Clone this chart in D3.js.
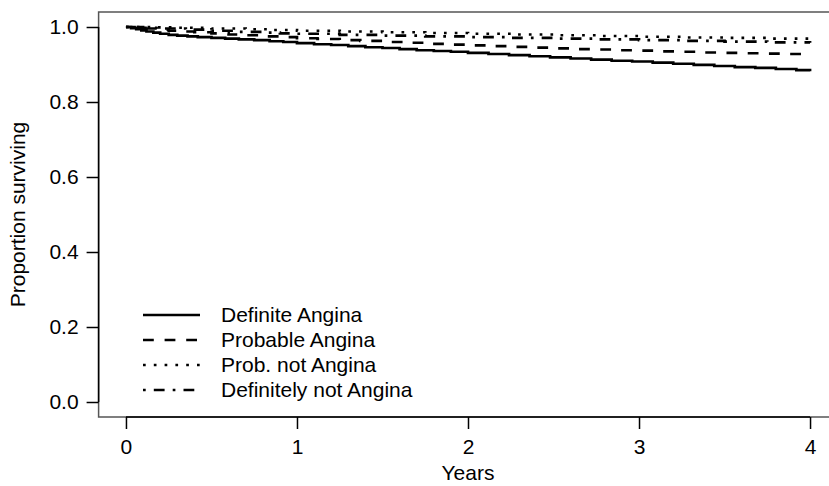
<!DOCTYPE html>
<html>
<head>
<meta charset="utf-8">
<script src="https://cdn.jsdelivr.net/npm/d3@7"></script>
<style>
  body { margin: 0; background: #fff; }
  svg { display: block; font-family: "Liberation Sans", Arial, Helvetica, sans-serif; }
</style>
</head>
<body>
<svg id="chart" width="829" height="486"></svg>
<script>
// survival estimates (years, proportion surviving)
var definiteT = [0, 0.03, 0.06, 0.09, 0.12, 0.16, 0.2, 0.25, 0.3, 0.36, 0.42, 0.5, 0.58, 0.66, 0.75, 0.84, 0.92, 1.0, 1.1, 1.2, 1.3, 1.4, 1.5, 1.6, 1.7, 1.8, 1.9, 2.0, 2.12, 2.24, 2.36, 2.48, 2.6, 2.72, 2.84, 2.96, 3.08, 3.2, 3.32, 3.44, 3.56, 3.68, 3.8, 3.92, 4.0];
var definiteS = [1.0, 0.997, 0.994, 0.991, 0.988, 0.985, 0.982, 0.979, 0.977, 0.975, 0.973, 0.971, 0.969, 0.967, 0.965, 0.962, 0.96, 0.957, 0.954, 0.952, 0.949, 0.946, 0.944, 0.941, 0.938, 0.936, 0.934, 0.931, 0.928, 0.925, 0.922, 0.919, 0.916, 0.913, 0.91, 0.908, 0.905, 0.902, 0.899, 0.896, 0.893, 0.891, 0.888, 0.885, 0.882];

var probableT = [0, 0.05, 0.1, 0.18, 0.25, 0.33, 0.4, 0.5, 0.6, 0.7, 0.8, 0.9, 1.0, 1.12, 1.25, 1.37, 1.5, 1.62, 1.75, 1.87, 2.0, 2.12, 2.25, 2.37, 2.5, 2.62, 2.75, 2.87, 3.0, 3.12, 3.25, 3.37, 3.5, 3.62, 3.75, 3.87, 4.0];
var probableS = [1.0, 0.998, 0.996, 0.993, 0.99, 0.988, 0.986, 0.983, 0.98, 0.978, 0.975, 0.973, 0.97, 0.968, 0.965, 0.963, 0.96, 0.958, 0.955, 0.953, 0.951, 0.949, 0.947, 0.945, 0.943, 0.941, 0.94, 0.938, 0.937, 0.935, 0.934, 0.932, 0.931, 0.93, 0.929, 0.928, 0.927];

var probNotT = [0, 0.15, 0.3, 0.5, 0.7, 0.85, 1.0, 1.25, 1.5, 1.75, 2.0, 2.25, 2.5, 2.75, 3.0, 3.25, 3.5, 3.75, 4.0];
var probNotS = [1.0, 0.999, 0.998, 0.996, 0.994, 0.992, 0.99, 0.988, 0.986, 0.984, 0.982, 0.98, 0.978, 0.976, 0.974, 0.972, 0.971, 0.969, 0.968];

var defNotT = [0, 0.1, 0.2, 0.35, 0.5, 0.65, 0.8, 0.9, 1.0, 1.25, 1.5, 1.75, 2.0, 2.25, 2.5, 2.75, 3.0, 3.25, 3.5, 3.75, 4.0];
var defNotS = [1.0, 0.998, 0.996, 0.993, 0.99, 0.987, 0.985, 0.983, 0.982, 0.979, 0.977, 0.975, 0.973, 0.971, 0.969, 0.967, 0.965, 0.963, 0.961, 0.959, 0.958];

var groupNames = ["Definite Angina", "Probable Angina", "Prob. not Angina", "Definitely not Angina"];
var xTicks = [0, 1, 2, 3, 4];
var yTicks = [0, 0.2, 0.4, 0.6, 0.8, 1.0];

var lw = 2.7;
var fs = 21;
var dashes = [null, [4, 4], [1, 3], [1, 3, 4, 3]].map(function (d) {
  return d ? d.map(function (v) { return v * lw; }).join(",") : null;
});

var series = [
  { t: definiteT, s: definiteS },
  { t: probableT, s: probableS },
  { t: probNotT, s: probNotS },
  { t: defNotT, s: defNotS }
];

var svg = d3.select("#chart");

// R style plot region, extended 4% past the data range (right edge is cut off)
var x = d3.scaleLinear().domain([-0.16, 4.16]).range([98.6, 837.4]);
var y = d3.scaleLinear().domain([-0.04, 1.04]).range([417, 12]);

// box
svg.append("rect")
  .attr("x", x(-0.16)).attr("y", y(1.04))
  .attr("width", x(4.16) - x(-0.16)).attr("height", y(-0.04) - y(1.04))
  .attr("fill", "none").attr("stroke", "#555").attr("stroke-width", 1.5);

// y axis
var yAxis = svg.append("g").attr("transform", "translate(98.6,0)")
  .call(d3.axisLeft(y).tickValues(yTicks).tickFormat(d3.format(".1f")).tickSize(12).tickPadding(8));
yAxis.select(".domain").attr("d", "M0," + y(0) + "V" + y(1)).attr("stroke", "#000").attr("stroke-width", 1.5);
yAxis.selectAll(".tick line").attr("stroke-width", 1.5);
yAxis.selectAll("text").attr("font-size", fs).attr("fill", "#000");

// x axis
var xAxis = svg.append("g").attr("transform", "translate(0,417)")
  .call(d3.axisBottom(x).tickValues(xTicks).tickFormat(d3.format("d")).tickSize(12).tickPadding(10));
xAxis.select(".domain").attr("d", "M" + x(0) + ",0H" + x(4)).attr("stroke", "#000").attr("stroke-width", 1.5);
xAxis.selectAll(".tick line").attr("stroke-width", 1.5);
xAxis.selectAll("text").attr("font-size", fs).attr("fill", "#000");

svg.append("text")
  .attr("x", (x(0) + x(4)) / 2).attr("y", 480)
  .attr("text-anchor", "middle").attr("font-size", fs)
  .text("Years");

svg.append("text")
  .attr("transform", "translate(25," + y(0.5) + ") rotate(-90)")
  .attr("text-anchor", "middle").attr("font-size", fs)
  .text("Proportion surviving");

// curves
var line = d3.line()
  .x(function (d) { return x(d[0]); })
  .y(function (d) { return y(d[1]); })
  .curve(d3.curveStepAfter);

series.forEach(function (g, i) {
  var pts = g.t.map(function (t, j) { return [t, g.s[j]]; });
  svg.append("path")
    .attr("d", line(pts))
    .attr("fill", "none")
    .attr("stroke", "#000")
    .attr("stroke-width", lw)
    .attr("stroke-dasharray", dashes[i]);
});

// legend
var legend = svg.append("g");
groupNames.forEach(function (name, i) {
  var ly = 315 + i * 25;
  legend.append("line")
    .attr("x1", 143).attr("x2", 200)
    .attr("y1", ly).attr("y2", ly)
    .attr("stroke", "#000").attr("stroke-width", lw)
    .attr("stroke-dasharray", dashes[i]);
  legend.append("text")
    .attr("x", 221).attr("y", ly + 7)
    .attr("font-size", fs)
    .text(name);
});
</script>
</body>
</html>
